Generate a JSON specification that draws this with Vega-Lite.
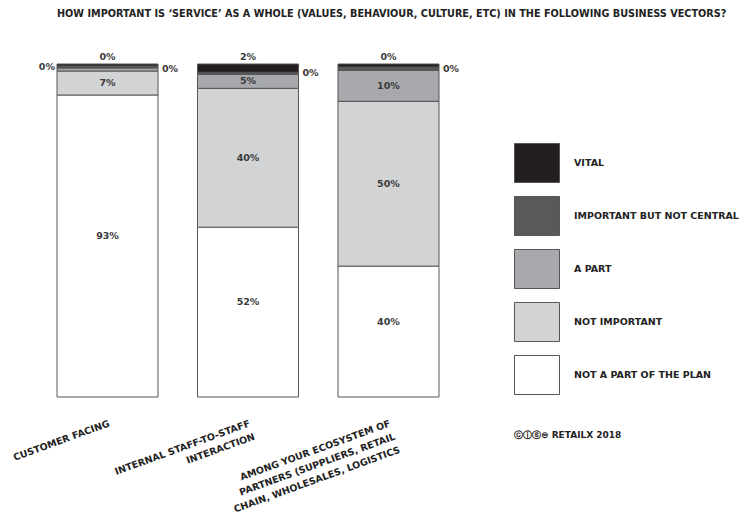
{
  "$schema": "https://vega.github.io/schema/vega-lite/v6.json",
  "autosize": {"type": "none"},
  "padding": {"left": 57, "top": 64, "right": 304, "bottom": 126},
  "width": 382,
  "height": 333,
  "background": "white",
  "title": {
    "text": "HOW IMPORTANT IS ‘SERVICE’ AS A WHOLE (VALUES, BEHAVIOUR, CULTURE, ETC) IN THE FOLLOWING BUSINESS VECTORS?",
    "anchor": "start",
    "frame": "group",
    "offset": 33,
    "font": "DejaVu Sans",
    "fontSize": 9.7,
    "fontWeight": "bold",
    "color": "#222222"
  },
  "config": {
    "view": {"stroke": null},
    "font": "DejaVu Sans"
  },
  "data": {
    "values": [
      {"cat": "CUSTOMER FACING", "level": "NOT A PART OF THE PLAN", "value": 90.7, "label": "93%"},
      {"cat": "CUSTOMER FACING", "level": "NOT IMPORTANT", "value": 7.2, "label": "7%"},
      {"cat": "CUSTOMER FACING", "level": "A PART", "value": 0.9, "label": "0%"},
      {"cat": "CUSTOMER FACING", "level": "IMPORTANT BUT NOT CENTRAL", "value": 0.6, "label": "0%"},
      {"cat": "CUSTOMER FACING", "level": "VITAL", "value": 0.6, "label": "0%"},
      {"cat": "INTERNAL STAFF-TO-STAFF|INTERACTION", "level": "NOT A PART OF THE PLAN", "value": 51, "label": "52%"},
      {"cat": "INTERNAL STAFF-TO-STAFF|INTERACTION", "level": "NOT IMPORTANT", "value": 41.7, "label": "40%"},
      {"cat": "INTERNAL STAFF-TO-STAFF|INTERACTION", "level": "A PART", "value": 4.2, "label": "5%"},
      {"cat": "INTERNAL STAFF-TO-STAFF|INTERACTION", "level": "IMPORTANT BUT NOT CENTRAL", "value": 0.6, "label": "0%"},
      {"cat": "INTERNAL STAFF-TO-STAFF|INTERACTION", "level": "VITAL", "value": 2.5, "label": "2%"},
      {"cat": "AMONG YOUR ECOSYSTEM OF|PARTNERS (SUPPLIERS, RETAIL|CHAIN, WHOLESALES, LOGISTICS", "level": "NOT A PART OF THE PLAN", "value": 39.3, "label": "40%"},
      {"cat": "AMONG YOUR ECOSYSTEM OF|PARTNERS (SUPPLIERS, RETAIL|CHAIN, WHOLESALES, LOGISTICS", "level": "NOT IMPORTANT", "value": 49.5, "label": "50%"},
      {"cat": "AMONG YOUR ECOSYSTEM OF|PARTNERS (SUPPLIERS, RETAIL|CHAIN, WHOLESALES, LOGISTICS", "level": "A PART", "value": 9.3, "label": "10%"},
      {"cat": "AMONG YOUR ECOSYSTEM OF|PARTNERS (SUPPLIERS, RETAIL|CHAIN, WHOLESALES, LOGISTICS", "level": "IMPORTANT BUT NOT CENTRAL", "value": 1.0, "label": "0%"},
      {"cat": "AMONG YOUR ECOSYSTEM OF|PARTNERS (SUPPLIERS, RETAIL|CHAIN, WHOLESALES, LOGISTICS", "level": "VITAL", "value": 0.9, "label": "0%"}
    ]
  },
  "transform": [
    {"calculate": "indexof(['NOT A PART OF THE PLAN','NOT IMPORTANT','A PART','IMPORTANT BUT NOT CENTRAL','VITAL'], datum.level)", "as": "rank"},
    {"stack": "value", "groupby": ["cat"], "sort": [{"field": "rank", "order": "ascending"}], "as": ["y0", "y1"]},
    {"calculate": "(datum.y0 + datum.y1) / 2", "as": "ymid"}
  ],
  "encoding": {
    "x": {
      "field": "cat",
      "type": "nominal",
      "sort": null,
      "scale": {"paddingInner": 0.281, "paddingOuter": 0},
      "axis": {
        "title": null,
        "domain": false,
        "ticks": false,
        "labelAngle": -20,
        "labelAlign": "right",
        "labelBaseline": "top",
        "labelPadding": 21,
        "labelLimit": 0,
        "labelFont": "DejaVu Sans",
        "labelFontSize": 9.5,
        "labelFontWeight": "bold",
        "labelColor": "#222222",
        "labelLineHeight": 14,
        "labelExpr": "split(datum.label, '|')"
      }
    }
  },
  "layer": [
    {
      "mark": {"type": "bar", "stroke": "#555555", "strokeWidth": 1},
      "encoding": {
        "y": {"field": "y0", "type": "quantitative", "scale": {"domain": [0, 100]}, "axis": null},
        "y2": {"field": "y1"},
        "color": {
          "field": "level",
          "type": "nominal",
          "scale": {
            "domain": ["VITAL", "IMPORTANT BUT NOT CENTRAL", "A PART", "NOT IMPORTANT", "NOT A PART OF THE PLAN"],
            "range": ["#231f20", "#58595b", "#a7a9ac", "#d1d3d4", "#ffffff"]
          },
          "legend": {
            "orient": "none",
            "legendX": 457,
            "legendY": 76,
            "padding": 0,
            "title": "ⓒⓘⓢ⊜ RETAILX 2018",
            "titleOrient": "bottom",
            "titleAnchor": "start",
            "titlePadding": 34,
            "titleFont": "DejaVu Sans",
            "titleFontSize": 9,
            "titleFontWeight": "bold",
            "titleColor": "#222222",
            "symbolType": "M-1,-0.867H1V0.867H-1Z",
            "symbolSize": 2025,
            "symbolStrokeColor": "#555555",
            "symbolStrokeWidth": 1,
            "symbolOpacity": 1,
            "rowPadding": 8,
            "labelOffset": 14,
            "labelFont": "DejaVu Sans",
            "labelFontSize": 9.5,
            "labelFontWeight": "bold",
            "labelColor": "#222222",
            "labelLimit": 0,
            "labelExpr": "datum.label == 'NOT A PART OF THE PLAN' ? '\u00a0\u00a0' + datum.label : datum.label"
          }
        }
      }
    },
    {
      "transform": [{"filter": "datum.value >= 3 && datum.level != 'NOT A PART OF THE PLAN'"}],
      "mark": {"type": "text", "fontSize": 9.5, "fontWeight": "bold", "color": "#3a3a3a"},
      "encoding": {
        "y": {"field": "ymid", "type": "quantitative"},
        "text": {"field": "label"}
      }
    },
    {
      "transform": [{"filter": "datum.level == 'NOT A PART OF THE PLAN'"}],
      "mark": {"type": "text", "fontSize": 9.5, "fontWeight": "bold", "color": "#3a3a3a", "dy": -10},
      "encoding": {
        "y": {"field": "ymid", "type": "quantitative"},
        "text": {"field": "label"}
      }
    },
    {
      "transform": [{"filter": "datum.level == 'VITAL'"}],
      "mark": {"type": "text", "fontSize": 9.5, "fontWeight": "bold", "color": "#3a3a3a", "baseline": "bottom", "dy": -2},
      "encoding": {
        "y": {"field": "y1", "type": "quantitative"},
        "text": {"field": "label"}
      }
    },
    {
      "transform": [{"filter": "(datum.cat == 'CUSTOMER FACING' && datum.level == 'A PART') || (datum.cat != 'CUSTOMER FACING' && datum.level == 'IMPORTANT BUT NOT CENTRAL')"}],
      "mark": {"type": "text", "fontSize": 9.5, "fontWeight": "bold", "color": "#3a3a3a", "align": "left", "dx": 4},
      "encoding": {
        "x": {"field": "cat", "type": "nominal", "sort": null, "bandPosition": 1},
        "y": {"field": "ymid", "type": "quantitative"},
        "text": {"field": "label"}
      }
    },
    {
      "transform": [{"filter": "datum.cat == 'CUSTOMER FACING' && datum.level == 'IMPORTANT BUT NOT CENTRAL'"}],
      "mark": {"type": "text", "fontSize": 9.5, "fontWeight": "bold", "color": "#3a3a3a", "align": "right", "dx": -2},
      "encoding": {
        "x": {"field": "cat", "type": "nominal", "sort": null, "bandPosition": 0},
        "y": {"field": "ymid", "type": "quantitative"},
        "text": {"field": "label"}
      }
    }
  ]
}
